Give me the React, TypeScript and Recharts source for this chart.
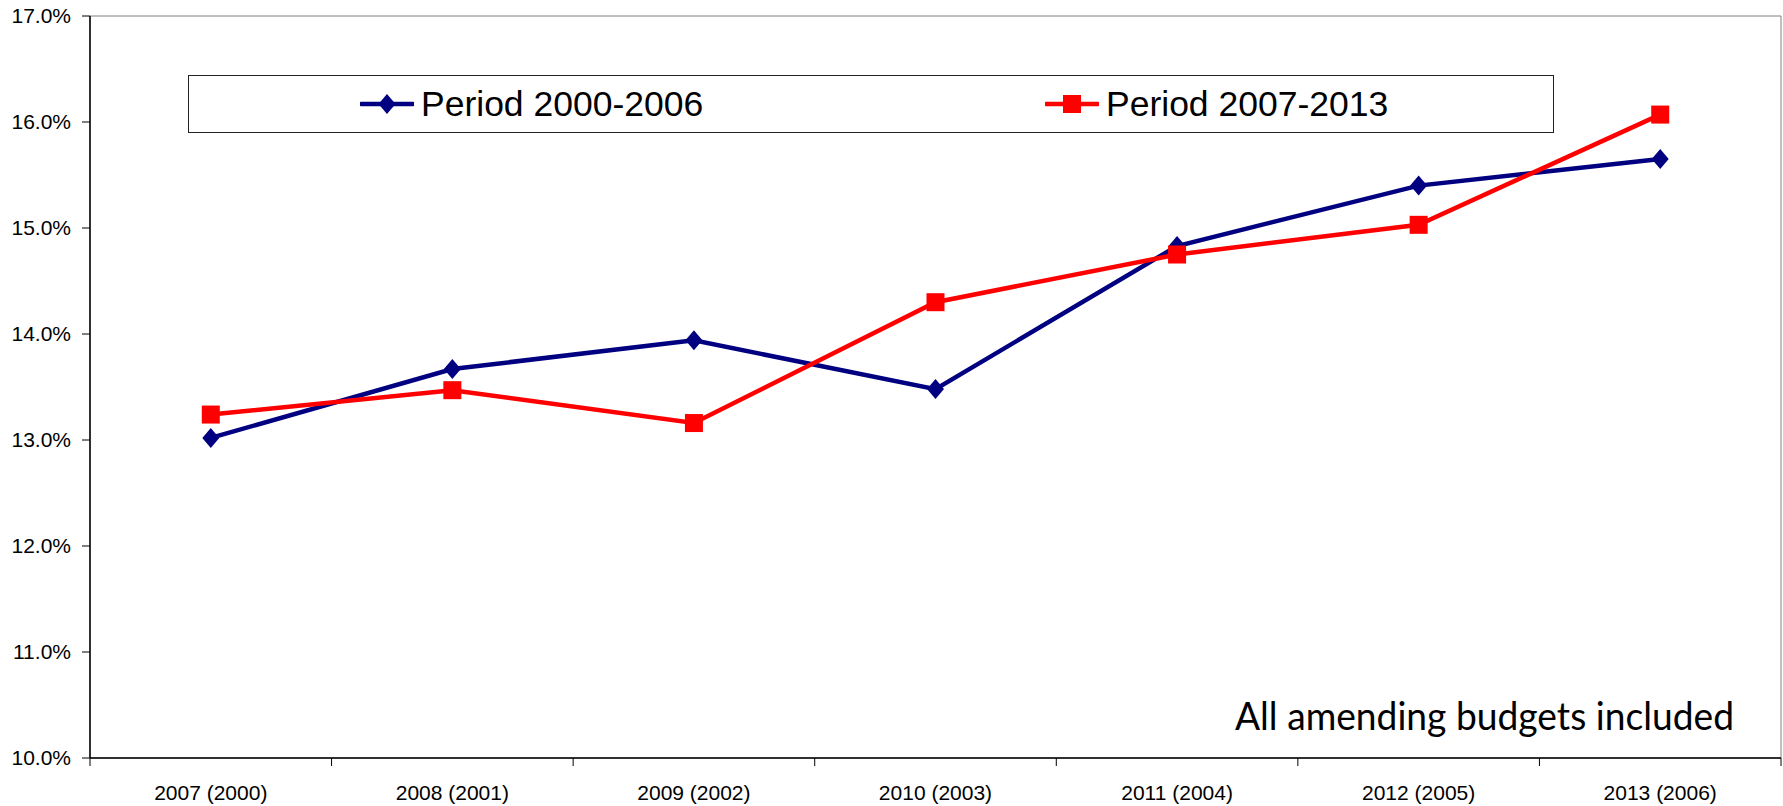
import React from 'react';
import { LineChart, Line, XAxis, YAxis, ReferenceArea } from 'recharts';

const categories = ['2007 (2000)', '2008 (2001)', '2009 (2002)', '2010 (2003)', '2011 (2004)', '2012 (2005)', '2013 (2006)'];
const period2000_2006 = [13.02, 13.67, 13.94, 13.48, 14.83, 15.4, 15.65];
const period2007_2013 = [13.24, 13.47, 13.16, 14.3, 14.75, 15.03, 16.07];
const yTicks = [10, 11, 12, 13, 14, 15, 16, 17];
const seriesNames = ['Period 2000-2006', 'Period 2007-2013'];
const annotation = 'All amending budgets included';

const BLUE = '#000080';
const RED = '#FF0000';
const FONT = "'Liberation Sans', Arial, sans-serif";
const X_TICK_SIZE = 8;
const X_TICK_MARGIN = 19;

const data = categories.map((c, i) => ({ cat: c, a: period2000_2006[i], b: period2007_2013[i] }));

const Diamond = (props: any) => {
  const { cx, cy, index } = props;
  if (cx == null || cy == null) return null;
  return (
    <polygon
      key={`dia-${index}`}
      points={`${cx},${cy - 10} ${cx + 8.5},${cy} ${cx},${cy + 10} ${cx - 8.5},${cy}`}
      fill={BLUE}
    />
  );
};

const Square = (props: any) => {
  const { cx, cy, index } = props;
  if (cx == null || cy == null) return null;
  return <rect key={`sq-${index}`} x={cx - 9} y={cy - 9} width={18} height={18} fill={RED} />;
};

const XTick = (props: any) => {
  const { x, y, payload, index, width, visibleTicksCount } = props;
  const half = width / visibleTicksCount / 2;
  const axisY = y - X_TICK_SIZE - X_TICK_MARGIN;
  return (
    <g>
      <line x1={x - half} x2={x - half} y1={axisY} y2={axisY + X_TICK_SIZE} stroke="#000" strokeWidth={1} />
      {index === visibleTicksCount - 1 && (
        <line x1={x + half} x2={x + half} y1={axisY} y2={axisY + X_TICK_SIZE} stroke="#000" strokeWidth={1} />
      )}
      <text x={x} y={y} dy="0.71em" textAnchor="middle" fontSize={21} fill="#000" fontFamily={FONT}>
        {payload.value}
      </text>
    </g>
  );
};

const LegendIcon = ({ color, shape }: { color: string; shape: 'diamond' | 'square' }) => (
  <svg width={54} height={24} style={{ display: 'block' }}>
    <line x1={1} y1={12} x2={53} y2={12} stroke={color} strokeWidth={4.5} strokeLinecap="round" />
    {shape === 'diamond' ? (
      <polygon points="27,2 35.5,12 27,22 18.5,12" fill={color} />
    ) : (
      <rect x={18} y={3} width={18} height={18} fill={color} />
    )}
  </svg>
);

export default function App() {
  const legendItems = [
    { name: seriesNames[0], color: BLUE, shape: 'diamond' as const, left: 171 },
    { name: seriesNames[1], color: RED, shape: 'square' as const, left: 856 },
  ];
  return (
    <div style={{ position: 'absolute', left: 0, top: 0, width: 1783, height: 806, background: '#fff' }}>
      <LineChart width={1783} height={806} data={data} margin={{ top: 16, right: 2, left: 0, bottom: 0 }}>
        <ReferenceArea y1={10} y2={17} fill="none" stroke="#808080" strokeWidth={1} ifOverflow="visible" />
        <XAxis
          dataKey="cat"
          scale="band"
          height={48}
          tickLine={false}
          tickSize={X_TICK_SIZE}
          tickMargin={X_TICK_MARGIN}
          axisLine={{ stroke: '#000', strokeWidth: 1.5 }}
          tick={XTick}
          interval={0}
        />
        <YAxis
          domain={[10, 17]}
          ticks={yTicks}
          width={90}
          tickSize={8}
          tickMargin={11}
          allowDataOverflow
          tickFormatter={(v: number) => `${v.toFixed(1)}%`}
          tick={{ fontSize: 21, fill: '#000', fontFamily: FONT }}
          tickLine={{ stroke: '#000' }}
          axisLine={{ stroke: '#000', strokeWidth: 1.5 }}
        />
        <Line
          dataKey="a"
          name={seriesNames[0]}
          stroke={BLUE}
          strokeWidth={4.5}
          dot={Diamond}
          activeDot={false}
          isAnimationActive={false}
        />
        <Line
          dataKey="b"
          name={seriesNames[1]}
          stroke={RED}
          strokeWidth={4.5}
          dot={Square}
          activeDot={false}
          isAnimationActive={false}
        />
      </LineChart>

      <div
        style={{
          position: 'absolute',
          left: 188,
          top: 75,
          width: 1366,
          height: 58,
          border: '1px solid #222',
          boxSizing: 'border-box',
          background: '#fff',
        }}
      >
        {legendItems.map((it) => (
          <div
            key={it.name}
            style={{
              position: 'absolute',
              left: it.left,
              top: 0,
              height: '100%',
              display: 'flex',
              alignItems: 'center',
              fontFamily: FONT,
              fontSize: 35.5,
              color: '#000',
              whiteSpace: 'nowrap',
            }}
          >
            <LegendIcon color={it.color} shape={it.shape} />
            <span style={{ marginLeft: 7 }}>{it.name}</span>
          </div>
        ))}
      </div>

      <svg width={1783} height={806} style={{ position: 'absolute', left: 0, top: 0, pointerEvents: 'none' }}>
        <text
          x={1235}
          y={730}
          fontFamily="Lato, 'Open Sans', sans-serif"
          fontSize={39}
          fill="#000"
          textLength={499}
          lengthAdjust="spacingAndGlyphs"
        >
          {annotation}
        </text>
      </svg>
    </div>
  );
}
